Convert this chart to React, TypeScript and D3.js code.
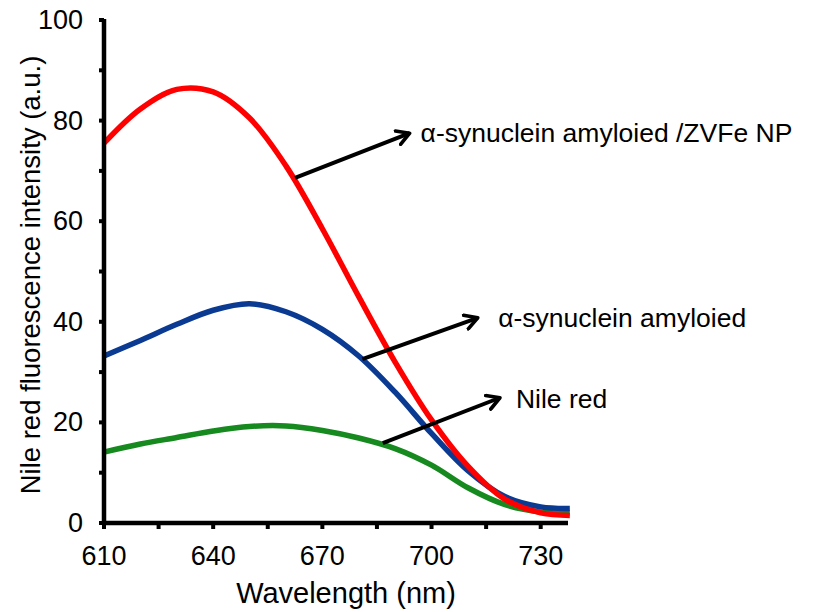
import React from "react";
import * as d3 from "d3";

const wavelengths = [610, 620, 630, 640, 650, 660, 670, 680, 690, 700, 710, 720, 730, 738];
const redSeries = [75.5, 82.3, 86.2, 85.7, 80.5, 71.0, 58.5, 45.0, 32.0, 20.5, 11.3, 4.8, 2.0, 1.5];
const blueSeries = [33.2, 36.3, 39.5, 42.3, 43.6, 42.0, 38.5, 33.2, 26.0, 17.8, 10.4, 5.3, 3.2, 2.9];
const greenSeries = [14.1, 15.7, 17.0, 18.3, 19.2, 19.3, 18.4, 16.9, 14.8, 11.5, 7.0, 3.7, 2.2, 2.0];

const xTicks = [610, 640, 670, 700, 730];
const xMinorTicks = [610, 625, 640, 655, 670, 685, 700, 715, 730];
const yTicks = [0, 20, 40, 60, 80, 100];
const yMinorTicks = [0, 10, 20, 30, 40, 50, 60, 70, 80, 90, 100];

const seriesNames = ["α-synuclein amyloied /ZVFe NP", "α-synuclein amyloied", "Nile red"];
const seriesColors = ["#ff0000", "#0a3a92", "#16891f"];
// annotation arrows in data coords
const arrowFrom = [[662.5, 68.6], [681, 32.6], [686.6, 15.9]];
const arrowTo = [[694, 77.5], [712.7, 40.8], [718.8, 24.9]];
const labelAt = [[697, 75.8], [718.3, 39], [723.2, 22.9]];

export default function App() {
  const W = 820, H = 612;
  const x = d3.scaleLinear().domain([610, 737.5]).range([104, 568]);
  const y = d3.scaleLinear().domain([0, 100]).range([523, 20]);
  const line = d3.line<number>()
    .x((_, i) => x(wavelengths[i]))
    .y((d) => y(d))
    .curve(d3.curveCatmullRom.alpha(0.5));
  const all = [redSeries, blueSeries, greenSeries];
  const font = "'Liberation Sans', Arial, sans-serif";
  const drawOrder = [2, 1, 0];

  return (
    <svg width={W} height={H} style={{ position: "absolute", left: 0, top: 0, background: "#fff" }} fontFamily={font}>
      <defs>
        <marker id="arr" viewBox="0 0 10 10" refX="8" refY="5" markerWidth="4.5" markerHeight="4.5" orient="auto" markerUnits="strokeWidth">
          <path d="M1,1 L8,5 L1,9" fill="none" stroke="#000" strokeWidth="2" strokeLinecap="round" strokeLinejoin="round" />
        </marker>
      </defs>
      {drawOrder.map((k) => (
        <path key={k} d={line(all[k]) || ""} fill="none" stroke={seriesColors[k]} strokeWidth={5.5} strokeLinecap="butt" />
      ))}
      {/* axes */}
      <line x1={x(610)} x2={x(610)} y1={y(100) - 1} y2={y(0) + 2} stroke="#000" strokeWidth={4.5} />
      <line x1={x(610) - 2} x2={x(737.5)} y1={y(0)} y2={y(0)} stroke="#000" strokeWidth={4.5} />
      {yMinorTicks.map((t) => (
        <line key={"ym" + t} x1={x(610) - 5} x2={x(610)} y1={y(t)} y2={y(t)} stroke="#000" strokeWidth={4} />
      ))}
      {xMinorTicks.map((t) => (
        <line key={"xm" + t} x1={x(t)} x2={x(t)} y1={y(0)} y2={y(0) + 6} stroke="#000" strokeWidth={4} />
      ))}
      {yTicks.map((t) => (
        <text key={"yl" + t} x={83} y={y(t)} dy="0.33em" textAnchor="end" fontSize={27} fill="#000">{t}</text>
      ))}
      {xTicks.map((t) => (
        <text key={"xl" + t} x={x(t)} y={565} textAnchor="middle" fontSize={27} fill="#000">{t}</text>
      ))}
      <text x={346} y={603} textAnchor="middle" fontSize={29} fill="#000">Wavelength (nm)</text>
      <text transform="translate(40,275) rotate(-90)" textAnchor="middle" fontSize={27.5} fill="#000">Nile red fluorescence intensity (a.u.)</text>
      {seriesNames.map((n, i) => (
        <g key={n}>
          <line x1={x(arrowFrom[i][0])} y1={y(arrowFrom[i][1])} x2={x(arrowTo[i][0])} y2={y(arrowTo[i][1])}
            stroke="#000" strokeWidth={4} markerEnd="url(#arr)" />
          <text x={x(labelAt[i][0])} y={y(labelAt[i][1])} fontSize={26.5} fill="#000">{n}</text>
        </g>
      ))}
    </svg>
  );
}
